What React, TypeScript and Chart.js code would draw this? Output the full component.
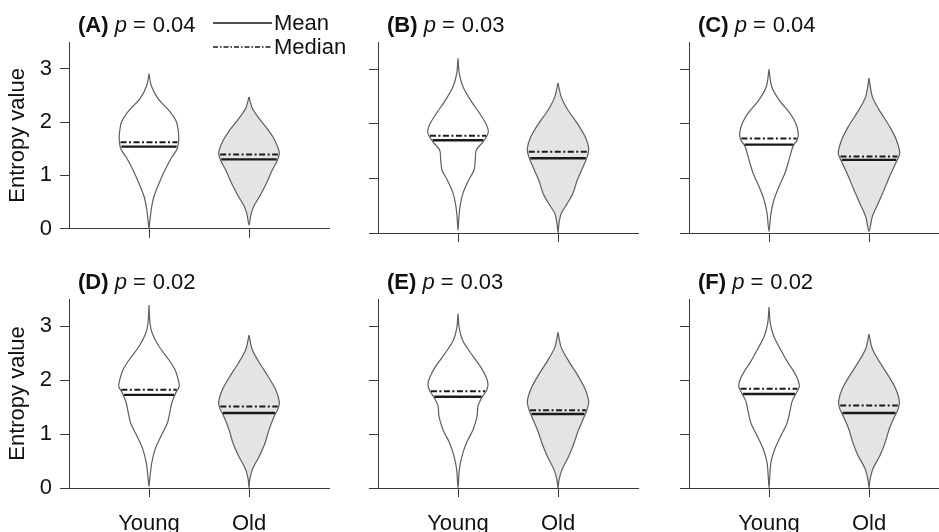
import React, { useEffect, useRef } from 'react';
import { Chart, registerables } from 'chart.js';

Chart.register(...registerables);

const FONT = '"Liberation Sans", Arial, Helvetica, sans-serif';

// ---- data ----
const categories = ['Young', 'Old'];
const yTickValues = [0, 1, 2, 3];
const panelLabels = ['A', 'B', 'C', 'D', 'E', 'F'];
const pValues = ['0.04', '0.03', '0.04', '0.02', '0.03', '0.02'];

const meanYoung = [1.54, 1.7, 1.62, 1.725, 1.69, 1.74];
const medianYoung = [1.62, 1.78, 1.73, 1.82, 1.79, 1.84];
const meanOld = [1.3, 1.37, 1.34, 1.39, 1.37, 1.39];
const medianOld = [1.39, 1.49, 1.4, 1.51, 1.44, 1.53];

// violin profiles: [entropy value, half width (in category units)], from top tip to bottom tip
const violinA_young = [[2.91, 0], [2.68, 0.023], [2.44, 0.09], [2.2, 0.207], [2.01, 0.273], [1.83, 0.293], [1.65, 0.297], [1.49, 0.28], [1.34, 0.227], [1.1, 0.16], [0.85, 0.1], [0.61, 0.05], [0.37, 0.023], [0.12, 0.007], [0, 0]];
const violinA_old = [[2.47, 0], [2.26, 0.033], [2.07, 0.1], [1.83, 0.2], [1.65, 0.26], [1.43, 0.303], [1.28, 0.283], [1.1, 0.233], [0.85, 0.173], [0.61, 0.107], [0.43, 0.05], [0.27, 0.02], [0.07, 0]];
const violinB_young = [[3.2, 0], [2.92, 0.013], [2.68, 0.05], [2.43, 0.127], [2.19, 0.217], [2.01, 0.277], [1.88, 0.303], [1.79, 0.293], [1.67, 0.25], [1.52, 0.183], [1.34, 0.173], [1.15, 0.16], [0.97, 0.107], [0.73, 0.05], [0.48, 0.02], [0.24, 0.007], [0.05, 0]];
const violinB_old = [[2.75, 0], [2.49, 0.033], [2.25, 0.1], [2.01, 0.193], [1.76, 0.273], [1.55, 0.307], [1.4, 0.293], [1.21, 0.25], [0.97, 0.193], [0.73, 0.15], [0.54, 0.093], [0.36, 0.033], [0.18, 0.01], [0, 0]];
const violinC_young = [[3.0, 0], [2.68, 0.027], [2.44, 0.1], [2.2, 0.207], [2.01, 0.267], [1.83, 0.293], [1.71, 0.283], [1.59, 0.24], [1.34, 0.2], [1.1, 0.16], [0.85, 0.1], [0.61, 0.05], [0.37, 0.02], [0.03, 0]];
const violinC_old = [[2.84, 0], [2.5, 0.033], [2.26, 0.1], [1.95, 0.207], [1.71, 0.273], [1.46, 0.307], [1.28, 0.267], [1.04, 0.207], [0.79, 0.15], [0.55, 0.093], [0.3, 0.033], [0.03, 0]];
const violinD_young = [[3.39, 0], [3.05, 0.01], [2.86, 0.033], [2.62, 0.1], [2.37, 0.2], [2.19, 0.26], [2.0, 0.293], [1.88, 0.303], [1.76, 0.267], [1.57, 0.227], [1.39, 0.207], [1.2, 0.183], [0.95, 0.117], [0.71, 0.06], [0.46, 0.027], [0.21, 0.01], [0.03, 0]];
const violinD_old = [[2.83, 0], [2.56, 0.033], [2.31, 0.107], [2.06, 0.193], [1.82, 0.267], [1.6, 0.303], [1.48, 0.293], [1.32, 0.25], [1.08, 0.2], [0.83, 0.16], [0.58, 0.1], [0.34, 0.033], [0.15, 0.007], [0, 0]];
const violinE_young = [[3.23, 0], [2.95, 0.013], [2.72, 0.05], [2.5, 0.127], [2.27, 0.217], [2.06, 0.28], [1.92, 0.3], [1.8, 0.283], [1.68, 0.24], [1.52, 0.2], [1.32, 0.19], [1.08, 0.15], [0.83, 0.083], [0.59, 0.04], [0.34, 0.013], [0, 0]];
const violinE_old = [[2.88, 0], [2.6, 0.033], [2.35, 0.107], [2.1, 0.193], [1.85, 0.267], [1.6, 0.307], [1.45, 0.29], [1.27, 0.25], [1.05, 0.2], [0.83, 0.16], [0.59, 0.107], [0.34, 0.04], [0.15, 0.01], [0, 0]];
const violinF_young = [[3.35, 0], [3.05, 0.013], [2.8, 0.05], [2.55, 0.12], [2.35, 0.18], [2.15, 0.25], [2.0, 0.29], [1.88, 0.303], [1.76, 0.273], [1.6, 0.23], [1.4, 0.207], [1.2, 0.18], [0.97, 0.12], [0.73, 0.06], [0.48, 0.02], [0.2, 0.007], [0, 0]];
const violinF_old = [[2.85, 0], [2.58, 0.033], [2.33, 0.107], [2.08, 0.193], [1.84, 0.267], [1.62, 0.303], [1.47, 0.293], [1.3, 0.25], [1.08, 0.2], [0.85, 0.163], [0.6, 0.11], [0.36, 0.04], [0.15, 0.01], [0, 0]];

const youngProfiles = [violinA_young, violinB_young, violinC_young, violinD_young, violinE_young, violinF_young];
const oldProfiles = [violinA_old, violinB_old, violinC_old, violinD_old, violinE_old, violinF_old];

// ---- helpers ----
const MEDIAN_DASH = [6, 2.5, 2, 2.5];
const OUTLINE = '#5e5e5e';
const AXIS = '#3a3a3a';

function halfWidthAt(profile: number[][], y: number) {
  for (let i = 0; i < profile.length - 1; i++) {
    const [y0, w0] = profile[i];
    const [y1, w1] = profile[i + 1];
    if (y <= y0 && y >= y1) {
      const t = (y0 - y) / (y0 - y1 || 1);
      return w0 + (w1 - w0) * t;
    }
  }
  return 0;
}

function violinPoints(profile: number[][], center: number) {
  const right = profile.map(([y, w]) => ({ x: center + w, y }));
  const left = profile.slice(0, -1).reverse().map(([y, w]) => ({ x: center - w, y }));
  return [...right, ...left];
}

function hLine(profile: number[][], center: number, y: number) {
  const hw = halfWidthAt(profile, y) * 0.97;
  return [{ x: center - hw, y }, { x: center + hw, y }];
}

const COL_LEFT = [0, 309, 620];
const ROW_TOP = [0, 250];
const ROW_H = [250, 282];
const CANVAS_W = 350;
const YAXIS_W = 69;
const AREA_W = 260;

function Panel({ idx }: { idx: number }) {
  const ref = useRef<HTMLCanvasElement | null>(null);
  const row = Math.floor(idx / 3);
  const col = idx % 3;
  const height = ROW_H[row];

  useEffect(() => {
    const isLeft = col === 0;
    const isBottom = row === 1;
    const areaTop = isBottom ? 49 : 42;
    const xAxisH = isBottom ? 44 : 17;

    const yp = youngProfiles[idx];
    const op = oldProfiles[idx];

    const datasets: any[] = [
      { data: hLine(yp, 1, meanYoung[idx]), borderColor: '#1a1a1a', borderWidth: 2.4, fill: false, tension: 0 },
      { data: hLine(yp, 1, medianYoung[idx]), borderColor: '#1a1a1a', borderWidth: 2, borderDash: MEDIAN_DASH, fill: false, tension: 0 },
      { data: hLine(op, 2, meanOld[idx]), borderColor: '#1a1a1a', borderWidth: 2.4, fill: false, tension: 0 },
      { data: hLine(op, 2, medianOld[idx]), borderColor: '#1a1a1a', borderWidth: 2, borderDash: MEDIAN_DASH, fill: false, tension: 0 },
      { data: violinPoints(yp, 1), borderColor: OUTLINE, borderWidth: 1.2, backgroundColor: '#ffffff', fill: 'shape', tension: 0.28 },
      { data: violinPoints(op, 2), borderColor: OUTLINE, borderWidth: 1.2, backgroundColor: '#e4e4e4', fill: 'shape', tension: 0.28 },
    ];

    const titlePlugin = {
      id: 'panelTitle',
      afterDraw(chart: any) {
        const { ctx, chartArea } = chart;
        ctx.save();
        ctx.fillStyle = '#111';
        ctx.textBaseline = 'alphabetic';
        ctx.textAlign = 'left';
        let x = chartArea.left + 9;
        const y = chartArea.top - 10;
        ctx.font = `bold 22px ${FONT}`;
        const t1 = `(${panelLabels[idx]}) `;
        ctx.fillText(t1, x, y);
        x += ctx.measureText(t1).width;
        ctx.font = `italic 22px ${FONT}`;
        ctx.fillText('p', x, y);
        x += ctx.measureText('p').width;
        ctx.font = `22px ${FONT}`;
        ctx.fillText('=', x + 6, y);
        x += 6 + ctx.measureText('=').width + 7;
        ctx.fillText(pValues[idx], x, y);

        if (idx === 0) {
          const lx0 = chartArea.left + 144;
          const lx1 = chartArea.left + 203;
          const tx = chartArea.left + 205;
          const y1 = chartArea.top - 19;
          const y2 = chartArea.top + 5;
          ctx.strokeStyle = '#1a1a1a';
          ctx.lineWidth = 1.5;
          ctx.beginPath();
          ctx.moveTo(lx0, y1);
          ctx.lineTo(lx1, y1);
          ctx.stroke();
          ctx.setLineDash([5, 2, 1.5, 2]);
          ctx.beginPath();
          ctx.moveTo(lx0, y2);
          ctx.lineTo(lx1, y2);
          ctx.stroke();
          ctx.setLineDash([]);
          ctx.font = `22px ${FONT}`;
          ctx.textBaseline = 'middle';
          ctx.fillText('Mean', tx, y1 + 1);
          ctx.fillText('Median', tx, y2 + 1);
        }
        ctx.restore();
      },
    };

    const gridOpts = { display: true, drawOnChartArea: false, drawTicks: true, tickLength: 9, color: AXIS, lineWidth: 1 };
    const borderOpts = { display: true, color: AXIS, width: 1 };

    const chart = new Chart(ref.current as HTMLCanvasElement, {
      type: 'line',
      data: { datasets },
      options: {
        responsive: false,
        animation: false,
        devicePixelRatio: 1,
        events: [],
        layout: { padding: { top: areaTop, left: 0, bottom: 0, right: CANVAS_W - YAXIS_W - AREA_W } },
        elements: { point: { radius: 0, hoverRadius: 0 } },
        plugins: { legend: { display: false }, tooltip: { enabled: false }, title: { display: false } },
        scales: {
          x: {
            type: 'linear',
            position: 'bottom',
            min: 0.2,
            max: 2.8,
            afterBuildTicks: (s: any) => { s.ticks = categories.map((_, i) => ({ value: i + 1 })); },
            afterFit: (s: any) => { s.height = xAxisH; },
            grid: gridOpts,
            border: borderOpts,
            ticks: {
              display: isBottom,
              padding: 14,
              autoSkip: false,
              maxRotation: 0,
              color: '#111',
              font: { size: 22, family: FONT },
              callback: (v: any) => categories[Math.round(Number(v)) - 1] ?? '',
            },
          },
          y: {
            type: 'linear',
            min: 0,
            max: 3.5,
            afterBuildTicks: (s: any) => { s.ticks = yTickValues.map((v) => ({ value: v })); },
            afterFit: (s: any) => { s.width = YAXIS_W; },
            grid: gridOpts,
            border: borderOpts,
            ticks: {
              display: isLeft,
              padding: 8,
              color: '#111',
              font: { size: 22, family: FONT },
              callback: (v: any) => String(v),
            },
            title: {
              display: isLeft,
              text: 'Entropy value',
              color: '#111',
              font: { size: 22, family: FONT },
              padding: { top: 5, bottom: 0 },
            },
          },
        },
      } as any,
      plugins: [titlePlugin],
    });
    return () => chart.destroy();
  }, [idx]);

  return (
    <canvas
      ref={ref}
      width={CANVAS_W}
      height={height}
      style={{ position: 'absolute', left: COL_LEFT[col], top: ROW_TOP[row], width: CANVAS_W, height }}
    />
  );
}

export default function App() {
  return (
    <div style={{ position: 'absolute', left: 0, top: 0, width: 939, height: 532, overflow: 'hidden', background: '#ffffff' }}>
      {panelLabels.map((_, i) => (
        <Panel key={i} idx={i} />
      ))}
    </div>
  );
}
